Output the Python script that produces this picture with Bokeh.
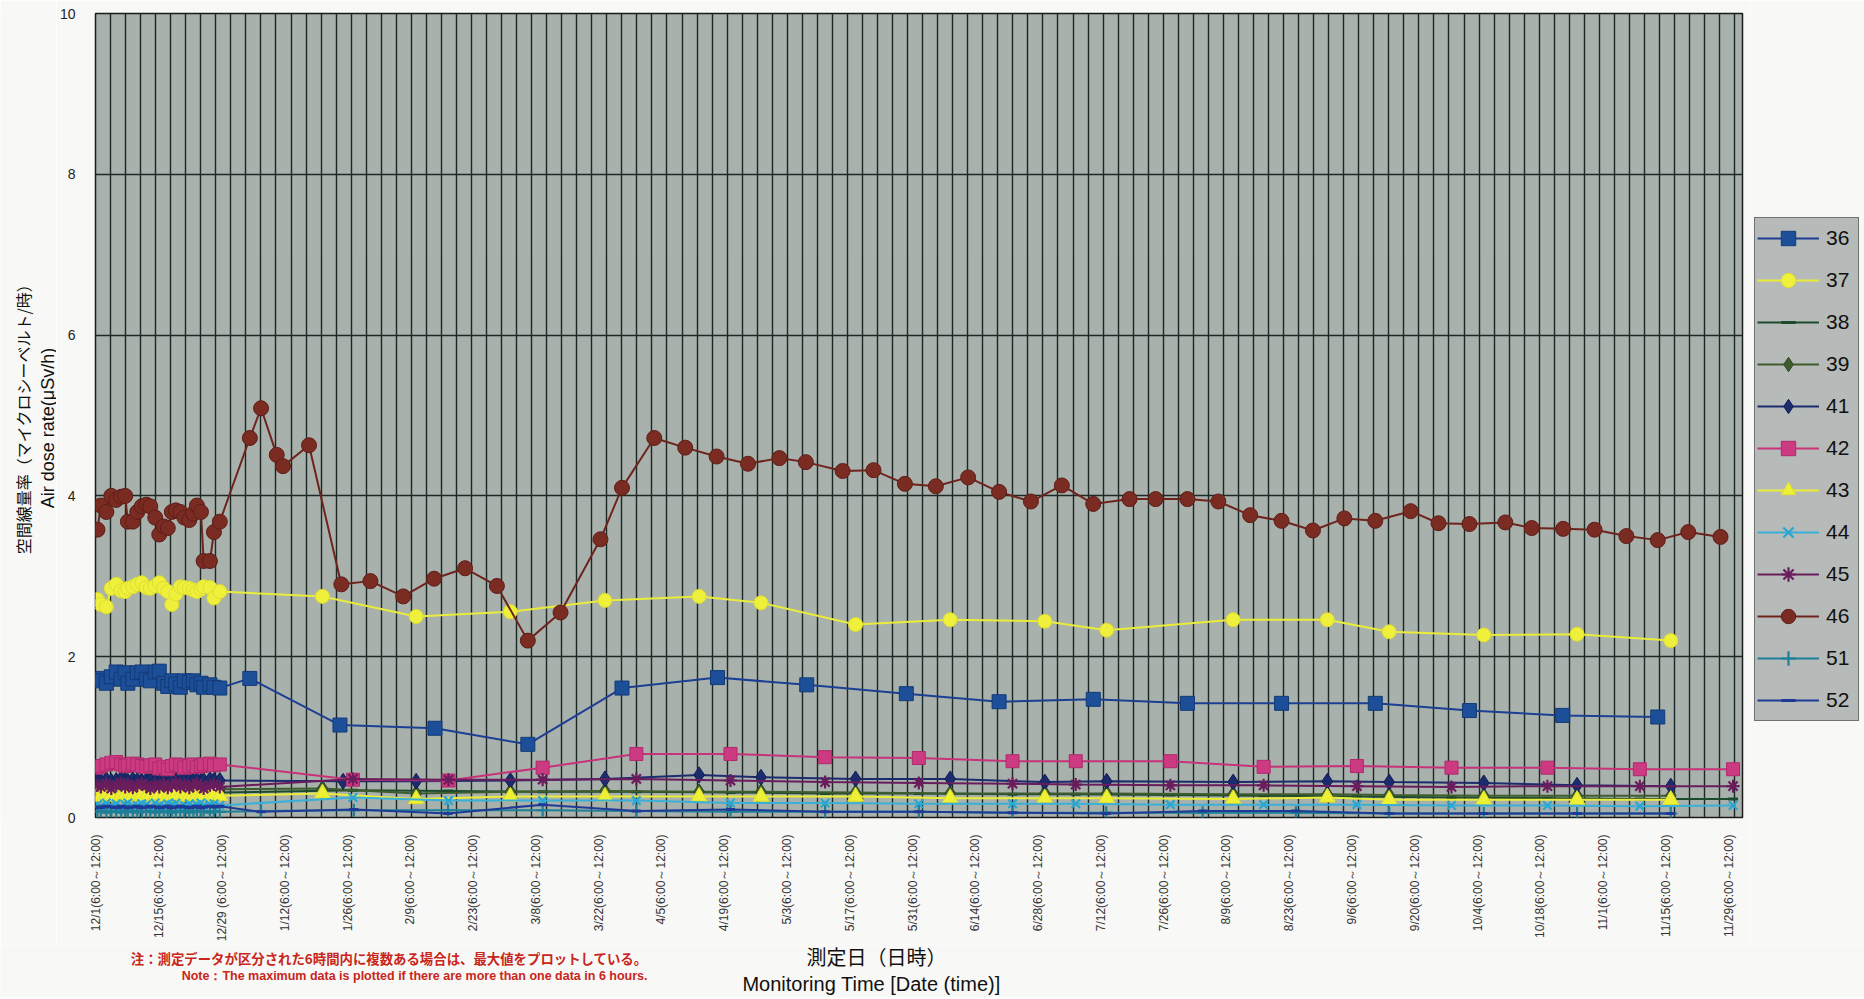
import math
import numpy as np
from bokeh.plotting import figure
from bokeh.layouts import column, row
from bokeh.models import Range1d, FixedTicker, Label, Legend, LegendItem, Grid
from bokeh.embed import file_html
from bokeh.resources import INLINE

# ---- category tick labels (every 14 days from 12/1) ----
tick_labels = [
    "12/1(6:00～12:00)", "12/15(6:00～12:00)", "12/29 (6:00～12:00)", "1/12(6:00～12:00)",
    "1/26(6:00～12:00)", "2/9(6:00～12:00)", "2/23(6:00～12:00)", "3/8(6:00～12:00)",
    "3/22(6:00～12:00)", "4/5(6:00～12:00)", "4/19(6:00～12:00)", "5/3(6:00～12:00)",
    "5/17(6:00～12:00)", "5/31(6:00～12:00)", "6/14(6:00～12:00)", "6/28(6:00～12:00)",
    "7/12(6:00～12:00)", "7/26(6:00～12:00)", "8/9(6:00～12:00)", "8/23(6:00～12:00)",
    "9/6(6:00～12:00)", "9/20(6:00～12:00)", "10/4(6:00～12:00)", "10/18(6:00～12:00)",
    "11/1(6:00～12:00)", "11/15(6:00～12:00)", "11/29(6:00～12:00)",
]
tick_days = [14 * i for i in range(len(tick_labels))]

# ---- x positions (days after 12/1) ----
days_early = [0.22, 0.96, 2.2, 3.3, 4.4, 5.5, 6.4, 7.0, 8.1, 9.1, 10.1, 11.1, 12.0, 13.1, 14.0,
              15.0, 15.9, 16.8, 17.7, 18.7, 19.6, 20.7, 21.6, 22.4, 23.3, 23.9, 25.3, 26.2, 27.5]
days_a = [50.4, 71.3, 92.3, 113.4, 134.4, 148.2, 169.3, 190.4, 211.5, 225.3, 253.5, 274.5,
          288.3, 309.4, 330.2, 351.1]
days_b = [57.2, 78.5, 99.5, 120.4, 141.4, 162.5, 183.4, 204.3, 218.4, 239.5, 260.3, 281.1,
          302.2, 323.6, 344.2, 365.0]
days_c = [36.7, 57.4, 78.4, 99.5, 120.4, 141.4, 162.5, 183.4, 204.3, 225.2, 246.7, 267.5,
          288.3, 309.4, 330.2, 351.1]
days_36 = [34.2, 54.3, 75.5, 96.2, 117.2, 138.5, 158.4, 180.6, 201.3, 222.3, 243.3, 264.3,
           285.2, 306.2, 327.0, 348.2]
days_41 = [55.0, 71.3, 92.3, 113.4, 134.4, 148.2, 169.3, 190.4, 211.5, 225.3, 253.5, 274.5,
           288.3, 309.4, 330.2, 351.1]
days_46 = [34.2, 36.7, 40.2, 41.6, 47.4, 54.6, 61.1, 68.4, 75.3, 82.2, 89.3, 96.2, 103.5,
           112.4, 117.2, 124.4, 131.3, 138.3, 145.3, 152.3, 158.2, 166.4, 173.3, 180.3, 187.2,
           194.4, 201.3, 208.4, 215.3, 222.3, 230.4, 236.2, 243.3, 250.2, 257.3, 264.3, 271.3,
           278.3, 285.2, 293.1, 299.3, 306.2, 314.2, 320.1, 327.1, 334.1, 341.2, 348.2, 355.0,
           362.2]

# ---- values (μSv/h) ----
y36_early = [1.73, 1.70, 1.67, 1.75, 1.81, 1.72, 1.80, 1.67, 1.72, 1.80, 1.81, 1.72, 1.70, 1.81,
             1.82, 1.67, 1.63, 1.70, 1.66, 1.62, 1.70, 1.68, 1.70, 1.65, 1.67, 1.62, 1.65, 1.62, 1.61]
y36_late = [1.73, 1.15, 1.11, 0.91, 1.61, 1.74, 1.65, 1.54, 1.44, 1.47, 1.42, 1.42, 1.42, 1.33,
            1.27, 1.25]
y37_early = [2.71, 2.65, 2.62, 2.85, 2.90, 2.82, 2.81, 2.85, 2.87, 2.90, 2.92, 2.86, 2.85, 2.88,
             2.92, 2.85, 2.81, 2.65, 2.78, 2.87, 2.86, 2.85, 2.83, 2.81, 2.84, 2.87, 2.86, 2.73, 2.81]
y37_late = [2.75, 2.50, 2.56, 2.70, 2.75, 2.67, 2.40, 2.46, 2.44, 2.33, 2.46, 2.46, 2.31, 2.27,
            2.28, 2.20]
y38_early = [0.31, 0.30, 0.32, 0.31, 0.30, 0.31, 0.32, 0.31, 0.30, 0.31, 0.32, 0.31, 0.30, 0.31,
             0.31, 0.32, 0.30, 0.31, 0.32, 0.31, 0.30, 0.31, 0.31, 0.32, 0.30, 0.31, 0.31, 0.32, 0.31]
y38_late = [0.34, 0.33, 0.32, 0.32, 0.31, 0.30, 0.30, 0.29, 0.29, 0.28, 0.27, 0.26, 0.25, 0.24,
            0.23, 0.23]
y39_early = [0.34, 0.35, 0.34, 0.36, 0.35, 0.34, 0.35, 0.36, 0.35, 0.34, 0.35, 0.35, 0.36, 0.34,
             0.35, 0.35, 0.34, 0.36, 0.35, 0.34, 0.35, 0.36, 0.35, 0.34, 0.35, 0.35, 0.34, 0.35, 0.35]
y39_late = [0.36, 0.30, 0.32, 0.33, 0.32, 0.32, 0.31, 0.30, 0.30, 0.30, 0.29, 0.29, 0.28, 0.27,
            0.27, 0.27]
y41_early = [0.46, 0.45, 0.47, 0.45, 0.46, 0.48, 0.46, 0.45, 0.47, 0.46, 0.45, 0.46, 0.47, 0.45,
             0.44, 0.46, 0.45, 0.47, 0.46, 0.45, 0.46, 0.47, 0.45, 0.46, 0.45, 0.46, 0.47, 0.46, 0.46]
y41_late = [0.45, 0.45, 0.46, 0.48, 0.53, 0.50, 0.48, 0.48, 0.44, 0.45, 0.44, 0.45, 0.44, 0.43,
            0.40, 0.39]
y42_early = [0.62, 0.64, 0.66, 0.68, 0.69, 0.66, 0.64, 0.65, 0.67, 0.66, 0.64, 0.63, 0.65, 0.66,
             0.61, 0.63, 0.60, 0.64, 0.66, 0.65, 0.62, 0.64, 0.66, 0.63, 0.64, 0.66, 0.67, 0.65, 0.66]
y42_late = [0.47, 0.46, 0.62, 0.79, 0.79, 0.75, 0.74, 0.70, 0.70, 0.70, 0.63, 0.64, 0.62, 0.62,
            0.60, 0.60]
y43_early = [0.27, 0.26, 0.28, 0.27, 0.26, 0.27, 0.28, 0.26, 0.27, 0.27, 0.28, 0.26, 0.27, 0.26,
             0.28, 0.27, 0.26, 0.27, 0.28, 0.27, 0.26, 0.27, 0.28, 0.26, 0.27, 0.27, 0.26, 0.28, 0.27]
y43_late = [0.30, 0.23, 0.26, 0.26, 0.26, 0.26, 0.26, 0.24, 0.24, 0.24, 0.23, 0.25, 0.22, 0.22,
            0.22, 0.22]
y44_early = [0.16, 0.14, 0.18, 0.15, 0.17, 0.13, 0.16, 0.18, 0.14, 0.15, 0.17, 0.16, 0.13, 0.18,
             0.15, 0.14, 0.17, 0.16, 0.18, 0.13, 0.15, 0.17, 0.14, 0.16, 0.18, 0.15, 0.16, 0.17, 0.15]
y44_late = [0.25, 0.21, 0.21, 0.21, 0.18, 0.18, 0.17, 0.17, 0.17, 0.16, 0.16, 0.16, 0.15, 0.15,
            0.14, 0.15]
y45_early = [0.40, 0.38, 0.42, 0.36, 0.40, 0.43, 0.38, 0.41, 0.37, 0.40, 0.42, 0.39, 0.36, 0.40,
             0.38, 0.41, 0.37, 0.40, 0.43, 0.38, 0.41, 0.37, 0.40, 0.42, 0.39, 0.36, 0.40, 0.41, 0.38]
y45_late = [0.48, 0.47, 0.47, 0.48, 0.46, 0.44, 0.43, 0.42, 0.41, 0.40, 0.40, 0.39, 0.38, 0.39,
            0.39, 0.39]
y46_early = [3.58, 3.88, 3.80, 4.00, 3.95, 3.99, 4.00, 3.68, 3.68, 3.80, 3.87, 3.89, 3.87, 3.73,
             3.52, 3.62, 3.60, 3.80, 3.82, 3.80, 3.73, 3.70, 3.78, 3.88, 3.80, 3.19, 3.19, 3.55, 3.68]
y46_late = [4.72, 5.09, 4.51, 4.37, 4.63, 2.90, 2.94, 2.75, 2.97, 3.10, 2.88, 2.20, 2.55, 3.46,
            4.10, 4.72, 4.60, 4.49, 4.40, 4.47, 4.42, 4.31, 4.32, 4.15, 4.12, 4.23, 4.05, 3.93,
            4.13, 3.90, 3.96, 3.96, 3.96, 3.93, 3.76, 3.69, 3.57, 3.72, 3.69, 3.81, 3.66, 3.65,
            3.67, 3.60, 3.59, 3.58, 3.50, 3.45, 3.55, 3.49]
y51_early = [0.07, 0.08, 0.06, 0.08, 0.07, 0.06, 0.08, 0.07, 0.08, 0.06, 0.07, 0.08, 0.07, 0.06,
             0.08, 0.07, 0.08, 0.06, 0.07, 0.08, 0.07, 0.06, 0.08, 0.07, 0.08, 0.07, 0.06, 0.08, 0.07]
y51_late = [0.08, 0.09, 0.09, 0.09, 0.08, 0.07, 0.07, 0.07, 0.06, 0.06, 0.06, 0.06, 0.05, 0.05,
            0.05, 0.05]
y52_early = [0.13, 0.12, 0.14, 0.13, 0.12, 0.14, 0.13, 0.12, 0.13, 0.14, 0.12, 0.13, 0.14, 0.13,
             0.12, 0.13, 0.14, 0.12, 0.13, 0.14, 0.13, 0.12, 0.13, 0.14, 0.12, 0.13, 0.14, 0.13, 0.14]
y52_late = [0.07, 0.10, 0.05, 0.16, 0.08, 0.10, 0.07, 0.07, 0.06, 0.05, 0.08, 0.08, 0.05, 0.05,
            0.05, 0.05]

series_names = ["36", "37", "38", "39", "41", "42", "43", "44", "45", "46", "51", "52"]
series_x = [days_early + days_36, days_early + days_a, days_early + days_b, days_early + days_a,
            days_early + days_41, days_early + days_b, days_early + days_a, days_early + days_b,
            days_early + days_b, days_early + days_46, days_early + days_c, days_early + days_c]
series_y = [y36_early + y36_late, y37_early + y37_late, y38_early + y38_late, y39_early + y39_late,
            y41_early + y41_late, y42_early + y42_late, y43_early + y43_late, y44_early + y44_late,
            y45_early + y45_late, y46_early + y46_late, y51_early + y51_late, y52_early + y52_late]

# ---- styles ----
styles = {
    "36": dict(marker="square", size=14, fill="#1d4f98", line="#123a78", lc="#1c3f94"),
    "37": dict(marker="circle", size=14, fill="#eef03c", line="#dede2e", lc="#eaec3a"),
    "38": dict(marker="dash", size=10, fill="#1c4a2c", line="#1c4a2c", lc="#1c4a2c", mw=3),
    "39": dict(marker="diamond", size=16, fill="#3f5c2e", line="#2f4a22", lc="#3f5c2e"),
    "41": dict(marker="diamond", size=16, fill="#1b2b6e", line="#121f55", lc="#1b2b6e"),
    "42": dict(marker="square", size=13, fill="#cc3a82", line="#b02a6c", lc="#c8327a"),
    "43": dict(marker="triangle", size=16, fill="#eef036", line="#dede2a", lc="#eaec38"),
    "44": dict(marker="x", size=12, fill="#2aa6d0", line="#2aa6d0", lc="#3ab0d8", mw=2.2),
    "45": dict(marker="asterisk", size=13, fill="#6a1d5c", line="#6a1d5c", lc="#6a1d5c", mw=2.2),
    "46": dict(marker="circle", size=15, fill="#7a2b22", line="#5e1e18", lc="#6e241d"),
    "51": dict(marker="cross", size=13, fill="#1e7f96", line="#1e7f96", lc="#1e7f96", mw=2.2),
    "52": dict(marker="dash", size=9, fill="#1f3a96", line="#1f3a96", lc="#1f3a96", mw=3),
}

PAGE = "#f8f8f6"
TOP_H = 944
LEFT_W, MAIN_W, LEG_W = 56, 1694, 114
BOT_H = 53
FR_TOP, FR_BOT = 13, 818          # frame top / bottom on the page
B_TOP, B_BOT = FR_TOP, TOP_H - FR_BOT
X0, X1, GSTEP = -0.22, 367.1, 3.354


def blank_fig(w, h, xr, yr, bt=0, bb=0):
    f = figure(width=w, height=h, output_backend="svg", toolbar_location=None,
               x_range=xr, y_range=yr, x_axis_location=None, y_axis_location=None,
               min_border_left=0, min_border_right=0, min_border_top=bt, min_border_bottom=bb)
    f.grid.visible = False
    f.outline_line_color = None
    f.background_fill_color = PAGE
    f.border_fill_color = PAGE
    return f


# ---- main chart ----
p = figure(width=MAIN_W, height=TOP_H, output_backend="svg", toolbar_location=None,
           x_range=Range1d(X0, X1), y_range=Range1d(0, 10),
           min_border_left=28, min_border_right=8, min_border_top=B_TOP, min_border_bottom=B_BOT)
p.background_fill_color = "#a9b1ac"
p.border_fill_color = PAGE
p.outline_line_color = "#1a1a1a"
p.outline_line_width = 1.5

# faint light streaks beside each vertical grid line (scan texture)
p.add_layout(Grid(dimension=0, ticker=FixedTicker(ticks=list(np.arange(X0 + 1.1, X1, GSTEP))),
                  grid_line_color="#dfe3e1", grid_line_alpha=0.45, grid_line_width=1))
p.xgrid.ticker = FixedTicker(ticks=list(np.arange(X0 + GSTEP, X1 - 0.2, GSTEP)))
p.xgrid.grid_line_color = "#1d2925"
p.xgrid.grid_line_width = 1.3
p.ygrid.ticker = FixedTicker(ticks=[2, 4, 6, 8])
p.ygrid.grid_line_color = "#1d2925"
p.ygrid.grid_line_width = 1.3

p.xaxis.ticker = FixedTicker(ticks=tick_days)
p.xaxis.major_label_overrides = {d: lab for d, lab in zip(tick_days, tick_labels)}
p.xaxis.major_label_orientation = math.pi / 2
p.xaxis.major_label_text_font = "Liberation Sans"
p.xaxis.major_label_text_font_size = "12px"
p.xaxis.major_label_text_color = "#333333"
p.xaxis.major_label_standoff = 11
p.yaxis.ticker = FixedTicker(ticks=[0, 2, 4, 6, 8, 10])
p.yaxis.major_label_text_font = "Liberation Sans"
p.yaxis.major_label_text_font_size = "14px"
p.yaxis.major_label_text_color = "#222222"
p.yaxis.major_label_standoff = 14
for ax in (p.xaxis, p.yaxis):
    ax.axis_line_color = None
    ax.major_tick_line_color = None
    ax.minor_tick_line_color = None

# ---- legend panel: same series drawn on an off-screen range, only the legend shows ----
leg = blank_fig(LEG_W, TOP_H, Range1d(1000, 1001), Range1d(1000, 1001), B_TOP, B_BOT)

items = []
for name, xs, ys in zip(series_names, series_x, series_y):
    st = styles[name]
    for fig in (p, leg):
        lr = fig.line(xs, ys, line_color=st["lc"], line_width=2)
        sr = fig.scatter(xs, ys, marker=st["marker"], size=st["size"], fill_color=st["fill"],
                         line_color=st["line"], line_width=st.get("mw", 1))
    items.append(LegendItem(label=name, renderers=[lr, sr]))

legend = Legend(items=items, location=(4, FR_BOT - 722))
legend.background_fill_color = "#b6bab8"
legend.background_fill_alpha = 1.0
legend.border_line_color = "#2a2a2a"
legend.border_line_width = 1.2
legend.label_text_font = "Liberation Sans"
legend.label_text_font_size = "21px"
legend.label_text_color = "#111111"
legend.glyph_width = 62
legend.glyph_height = 36
legend.label_height = 36
legend.label_width = 30
legend.spacing = 6
legend.padding = 2
legend.margin = 0
legend.label_standoff = 7
leg.add_layout(legend)

# ---- left text panel (y axis title); y measured from the bottom of the top row ----
lf = blank_fig(LEFT_W, TOP_H, Range1d(0, LEFT_W), Range1d(TOP_H - FR_BOT, TOP_H - FR_TOP),
               B_TOP, B_BOT)
lf.add_layout(Label(x=22, y=TOP_H - 415, text="空間線量率（マイクロシーベルト/時）",
                    text_font="Noto Sans CJK JP", text_font_size="16px", text_color="#111111",
                    angle=math.pi / 2, text_align="center", text_baseline="middle"))
lf.add_layout(Label(x=47, y=TOP_H - 428, text="Air dose rate(μSv/h)",
                    text_font="Liberation Sans", text_font_size="18px", text_color="#111111",
                    angle=math.pi / 2, text_align="center", text_baseline="middle"))

# ---- bottom text panel (x axis title + note) ----
BW = LEFT_W + MAIN_W + LEG_W
bf = blank_fig(BW, BOT_H, Range1d(0, BW), Range1d(0, BOT_H))
Y0 = TOP_H + BOT_H


def btext(x, y_page, text, font, size, color="#111111", align="center", style="normal"):
    bf.add_layout(Label(x=x, y=Y0 - y_page, text=text, text_font=font, text_font_size=size,
                        text_color=color, text_align=align, text_baseline="middle",
                        text_font_style=style))


btext(876, 956, "測定日（日時）", "Noto Sans CJK JP", "20px")
btext(871, 983, "Monitoring Time [Date (time)]", "Liberation Sans", "20px")
btext(647, 957, "注：測定データが区分された6時間内に複数ある場合は、最大値をプロットしている。",
      "Noto Sans CJK JP", "13.4px", color="#c8261c", align="right", style="bold")
btext(647, 975, "Note：The maximum data is plotted if there are more than one data in 6 hours.",
      "Liberation Sans", "12.5px", color="#c8261c", align="right", style="bold")

layout = column(row(lf, p, leg), bf)
open("out.html", "w").write(file_html(layout, INLINE))
